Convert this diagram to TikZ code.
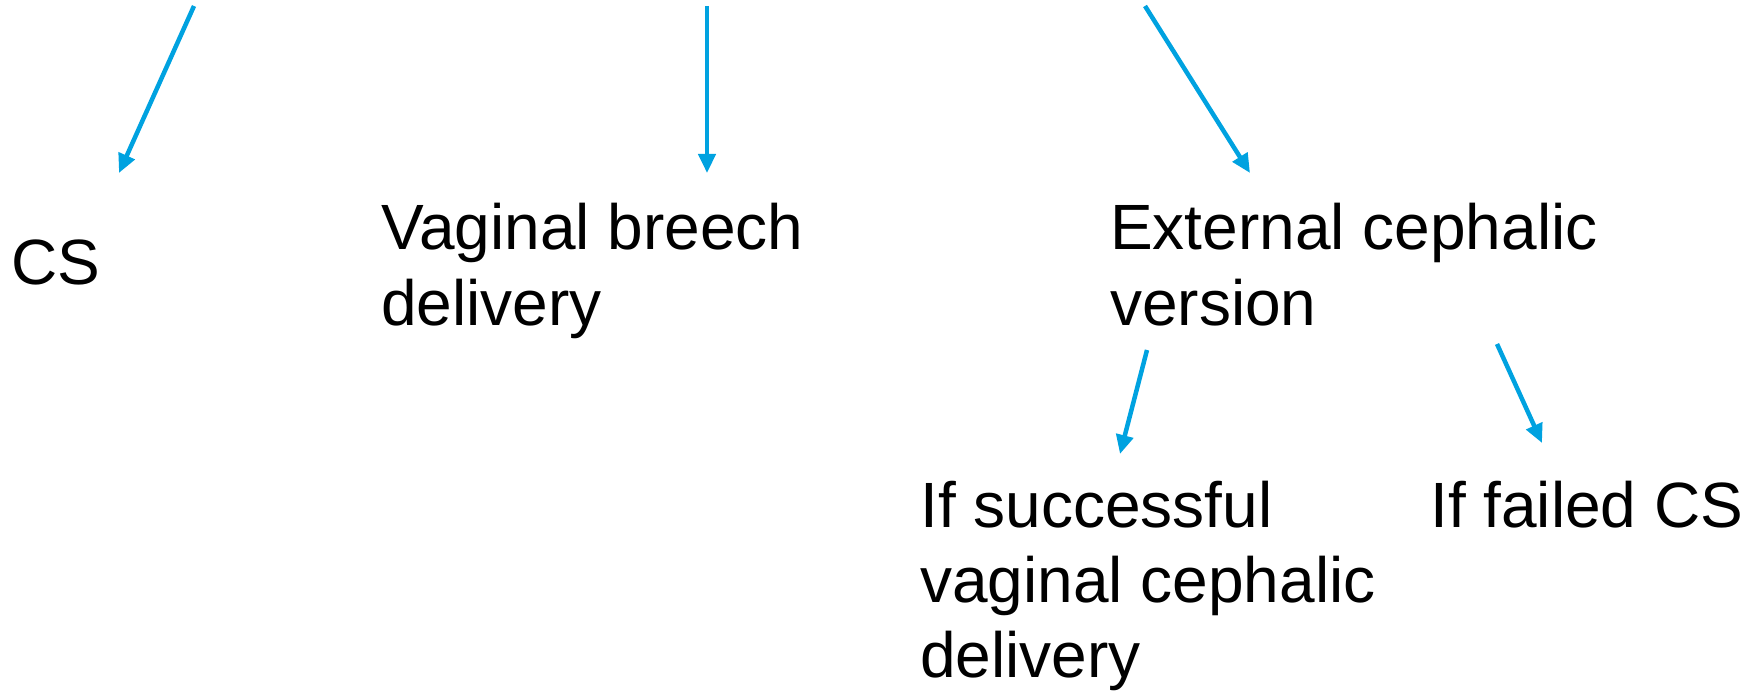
\documentclass[tikz,border=0pt]{standalone}
\usepackage{fontspec}
\setmainfont{Liberation Sans}
\usetikzlibrary{arrows.meta}
\definecolor{arrowblue}{RGB}{0,162,224}
\tikzset{
  lbl/.style={anchor=base west, inner sep=0pt, align=left,
    font=\fontsize{64pt}{75pt}\selectfont, text=black},
  conn/.style={draw=arrowblue, line width=4.5pt,
    -{Triangle[length=19pt,width=17pt]}}
}
\begin{document}
\begin{tikzpicture}[x=1pt,y=-1pt]
\useasboundingbox (0,0) rectangle (1752,692);
% labels (base anchor = baseline of last line)
\node[lbl] (cs) at (11,285) {CS};
\node[lbl] (vbd) at (381,325) {Vaginal breech\\delivery};
\node[lbl] (ecv) at (1110,325) {External cephalic\\version};
\node[lbl] (succ) at (920,677) {If successful\\vaginal cephalic\\delivery};
\node[lbl] (fail) at (1430,527) {If failed CS};
% arrow end points
\coordinate (s1) at (194,6);
\coordinate (e1) at (119,173);
\coordinate (s2) at (707,6);
\coordinate (e2) at (707,173);
\coordinate (s3) at (1145,6);
\coordinate (e3) at (1250,173);
\coordinate (s4) at (1147,350);
\coordinate (e4) at (1120,454);
\coordinate (s5) at (1497,344);
\coordinate (e5) at (1542,443);
\draw[conn] (s1) -- (e1);
\draw[conn] (s2) -- (e2);
\draw[conn] (s3) -- (e3);
\draw[conn] (s4) -- (e4);
\draw[conn] (s5) -- (e5);
\end{tikzpicture}
\end{document}
